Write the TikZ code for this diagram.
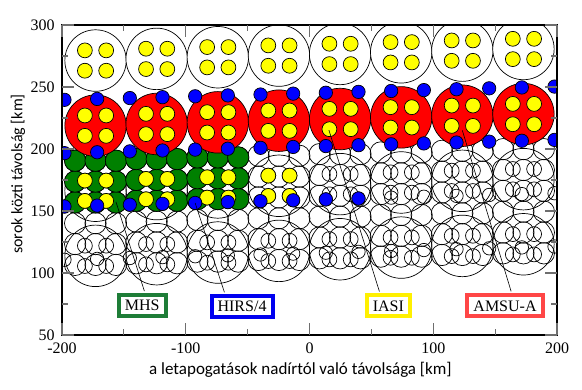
\documentclass[tikz,border=0pt]{standalone}
\usepackage{fontspec}
\setmainfont{Liberation Serif}
\newfontfamily\titlefont{Carlito}
\usetikzlibrary{calc}
\definecolor{amsured}{RGB}{255,0,0}
\definecolor{iasiyellow}{RGB}{255,255,0}
\definecolor{hirsblue}{RGB}{0,0,255}
\definecolor{mhsgreen}{RGB}{0,128,0}
\definecolor{mhsframe}{RGB}{30,125,55}
\definecolor{hirsframe}{RGB}{0,0,240}
\definecolor{iasiframe}{RGB}{255,240,0}
\definecolor{amsuframe}{RGB}{255,70,70}
\definecolor{tickgray}{RGB}{110,110,110}
\tikzset{
  fov/.style={draw=black,line width=0.7pt,fill=#1},
  fov/.default=white,
  ring/.style={draw=black,line width=0.7pt},
  tag/.style={draw=#1,line width=4pt,fill=white,inner xsep=6pt,inner ysep=0pt,
    minimum height=21pt,font=\fontsize{16}{16}\selectfont},
  leader/.style={draw=black,line width=0.6pt,shorten <=2pt},
  ticklab/.style={font=\fontsize{16}{16}\selectfont,inner sep=0pt},
  axistitle/.style={font=\titlefont\fontsize{17}{17}\selectfont,inner sep=0pt},
}

\begin{document}
\begin{tikzpicture}[x=1pt,y=1pt]
  \useasboundingbox (0,0) rectangle (582,389);
  \begin{scope}[shift={(309.5pt,-8pt)},x=1.2375pt,y=1.24pt]
    \begin{scope}
      \clip (-200,50) rectangle (200,300);
      % empty footprints, lower two scan lines
      \foreach \k in {0,...,7}{
        \pgfmathsetmacro\ax{49.4*(\k-3.5)}
        \pgfmathsetmacro\yc{223.5+0.027*\ax}
        \foreach \r in {52.5,105}
          \draw[ring] (\ax,\yc-\r) circle (24.8)
            (\ax-8.6,\yc-\r+8.2) circle (6) (\ax+8.6,\yc-\r+8.2) circle (6)
            (\ax-8.6,\yc-\r-8.2) circle (6) (\ax+8.6,\yc-\r-8.2) circle (6);
        \foreach \m in {-16.5,0,16.5}
          \foreach \j in {0,...,5}
            \draw[ring] (\ax+\m,\yc-28.3-16.8*\j) circle (8.6);
      }
      \foreach \h in {0,...,15}{
        \pgfmathsetmacro\hx{26.4*(\h-7.5)}
        \pgfmathsetmacro\yc{223.5+0.027*\hx}
        \draw[ring] (\hx,\yc-64.5) circle (5.4) (\hx,\yc-107.5) circle (5.4);
      }
      % top scan line
      \foreach \k in {0,...,7}{
        \pgfmathsetmacro\ax{49.4*(\k-3.5)}
        \pgfmathsetmacro\yc{223.5+0.027*\ax+52.5}
        \draw[fov] (\ax,\yc) circle (24.8);
        \foreach \dx/\dy in {-1/1,1/1,-1/-1,1/-1}
          \draw[fov=iasiyellow] (\ax+8.6*\dx,\yc+8.2*\dy) circle (6);
      }
      % MHS
      \foreach \k in {0,1,2}{
        \pgfmathsetmacro\ax{49.4*(\k-3.5)}
        \pgfmathsetmacro\yc{223.5+0.027*\ax}
        \foreach \j in {2,1,0}
          \foreach \m in {-16.5,0,16.5}
            \draw[fov=mhsgreen] (\ax+\m,\yc-28.3-16.8*\j) circle (8.6);
      }
      % IASI under MHS
      \foreach \k in {0,...,3}{
        \pgfmathsetmacro\ax{49.4*(\k-3.5)}
        \pgfmathsetmacro\yc{223.5+0.027*\ax-52.5}
        \foreach \dx/\dy in {-1/1,1/1,-1/-1,1/-1}
          \draw[fov=iasiyellow] (\ax+8.6*\dx,\yc+8.2*\dy) circle (6);
      }
      % AMSU-A
      \foreach \k in {0,...,7}{
        \pgfmathsetmacro\ax{49.4*(\k-3.5)}
        \pgfmathsetmacro\yc{223.5+0.027*\ax}
        \draw[fov=amsured] (\ax,\yc) circle (24.8);
        \foreach \dx/\dy in {-1/1,1/1,-1/-1,1/-1}
          \draw[fov=iasiyellow] (\ax+8.6*\dx,\yc+8.2*\dy) circle (6);
      }
      % HIRS/4
      \foreach \h in {0,...,15}{
        \pgfmathsetmacro\hx{26.4*(\h-7.5)}
        \pgfmathsetmacro\yc{223.5+0.027*\hx}
        \draw[fov=hirsblue] (\hx,\yc+21.5) circle (5.4) (\hx,\yc-21.5) circle (5.4);
        \ifnum\h<10 \draw[fov=hirsblue] (\hx,\yc-64.5) circle (5.4);\fi
      }
    \end{scope}

    \coordinate (mhsfov) at (-156.4,157.4);
    \coordinate (hirsfov) at (-92.4,156.5);
    \coordinate (iasifov) at (15.7,215.2);
    \coordinate (amsufov) at (123.5,215);

    \node[tag=mhsframe] (mhs) at (-135.2,73.8) {MHS};
    \node[tag=hirsframe] (hirs) at (-54.5,72.8) {HIRS/4};
    \node[tag=iasiframe] (iasi) at (63.7,73.4) {IASI};
    \node[tag=amsuframe] (amsu) at (158,73.5) {AMSU-A};
    \draw[leader] ([xshift=2.8pt]mhs.north) -- (mhsfov);
    \draw[leader] ([xshift=-17pt]hirs.north) -- (hirsfov);
    \draw[leader] ([xshift=-8.3pt]iasi.north) -- (iasifov);
    \draw[leader] ([xshift=6.7pt]amsu.north) -- (amsufov);

    % frame and ticks
    \draw[line width=1.8pt] (-200,50) rectangle (200,300);
    \foreach \t in {-200,-150,...,200}{
      \pgfmathsetmacro\tl{mod(\t,100)==0 ? 12 : 6}
      \draw[tickgray,line width=1.2pt] (\t,50) -- ++(0,\tl*1pt) (\t,300) -- ++(0,-\tl*1pt);
    }
    \foreach \t in {50,75,...,300}{
      \pgfmathsetmacro\tl{mod(\t,50)==0 ? 12 : 6}
      \draw[tickgray,line width=1.2pt] (-200,\t) -- ++(\tl*1pt,0) (200,\t) -- ++(-\tl*1pt,0);
    }
    \foreach \t [count=\i] in {-200,-100,...,200}
      \node[ticklab,anchor=base] (xt\i) at (\t,35.2) {\t};
    \foreach \t [count=\i] in {50,100,...,300}
      \node[ticklab,anchor=east] (yt\i) at (-205.7,\t) {\t};
    \node[axistitle,anchor=base] (xtitle) at (-7.3,18.1) {a letapogatások nadírtól való távolsága [km]};
    \node[axistitle,font=\titlefont\fontsize{16}{16}\selectfont,rotate=90] (ytitle) at (-235.6,179.8) {sorok közti távolság [km]};
  \end{scope}
\end{tikzpicture}
\end{document}
